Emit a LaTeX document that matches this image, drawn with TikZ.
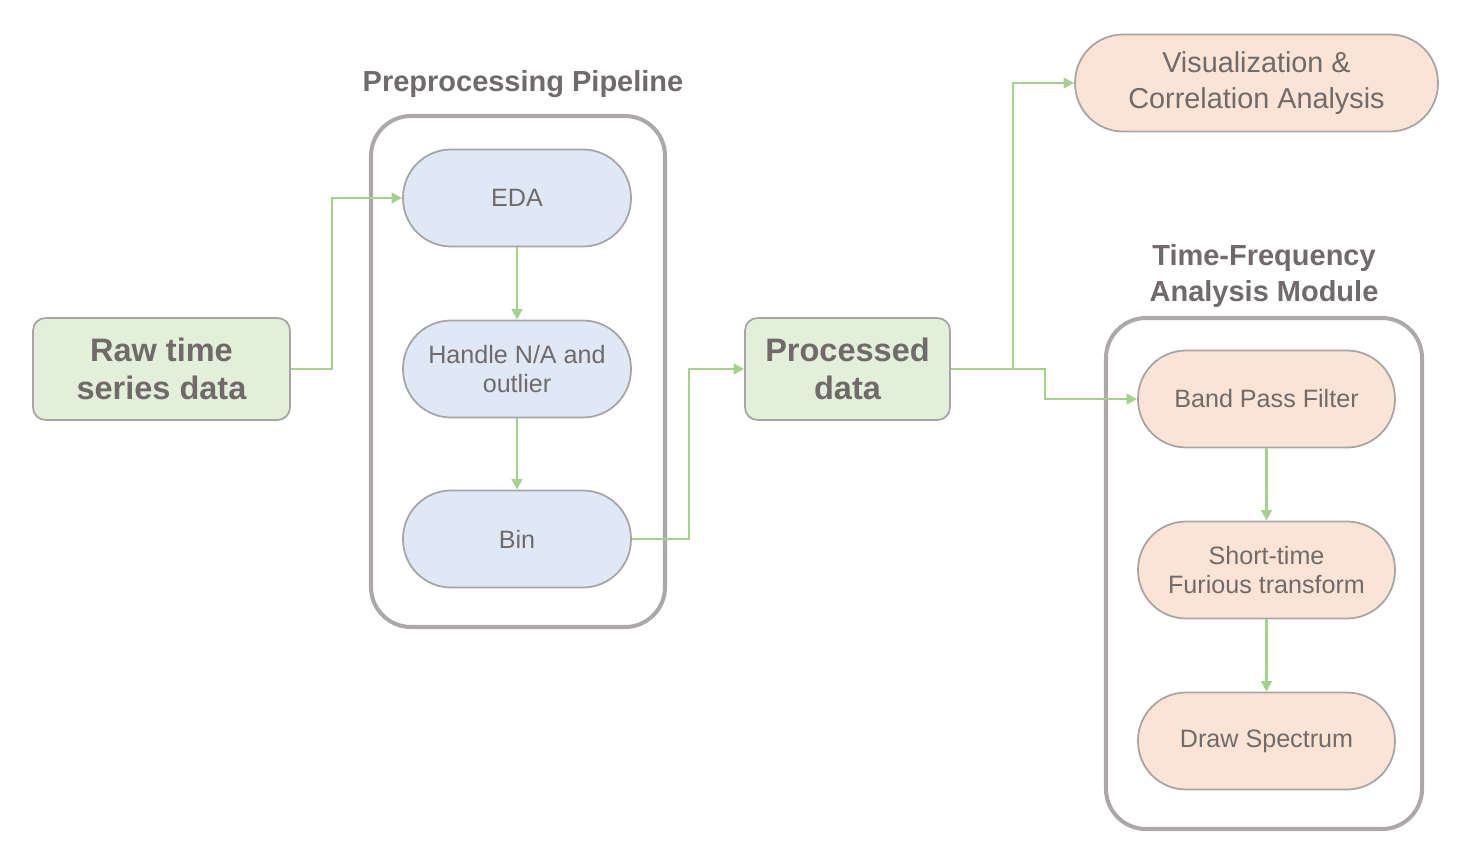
\documentclass[tikz,border=0pt]{standalone}
\usepackage{fontspec}
\setmainfont{Liberation Sans}
\usetikzlibrary{arrows.meta}
\definecolor{txtgray}{RGB}{112,106,106}
\definecolor{boxgray}{RGB}{166,164,164}
\definecolor{framegray}{RGB}{172,168,168}
\definecolor{arrgreen}{RGB}{164,210,140}
\definecolor{rawfill}{RGB}{226,239,218}
\definecolor{prefill}{RGB}{222,233,245}
\definecolor{tffill}{RGB}{251,228,214}
\tikzset{
  databox/.style={draw=boxgray, line width=1pt, fill=rawfill, rounded corners=0.25cm,
    text=txtgray, font=\fontsize{18.5}{21.6}\selectfont\bfseries, align=center, inner sep=0pt},
  stepbox/.style={draw=boxgray, line width=1pt, rounded corners=0.96cm, minimum height=1.94cm,
    text=txtgray, font=\fontsize{14.3}{17}\selectfont, align=center, inner sep=0pt},
  frame/.style={draw=framegray, line width=2.3pt, rounded corners=0.8cm},
  title/.style={text=txtgray, font=\fontsize{16.5}{20}\selectfont\bfseries, align=center},
  flow/.style={draw=arrgreen, line width=1.5pt, -{Triangle[length=6pt,width=6pt]}},
}
\begin{document}
\begin{tikzpicture}[x=0.02cm,y=-0.02cm]
\useasboundingbox (0,0) rectangle (1480,858);
% containers
\draw[frame] (371,116) rectangle (665,627);
\draw[frame] (1106,318) rectangle (1422,829);
\node[title] (pretitle) at (523,84) {Preprocessing Pipeline};
\node[title] (tftitle) at (1264,276) {Time-Frequency\\Analysis Module};
% data
\node[databox, minimum width=5.14cm, minimum height=2.04cm] (raw) at (161.5,369) {Raw time\\series data};
\node[databox, minimum width=4.1cm, minimum height=2.04cm] (proc) at (847.5,369) {Processed\\data};
% preprocessing
\node[stepbox, fill=prefill, minimum width=4.56cm] (eda) at (517,198) {EDA};
\node[stepbox, fill=prefill, minimum width=4.56cm] (handle) at (517,369) {Handle N/A and\\outlier};
\node[stepbox, fill=prefill, minimum width=4.56cm] (bin) at (517,539) {Bin};
% analysis
\node[stepbox, fill=tffill, minimum width=7.26cm, font=\fontsize{16.4}{20}\selectfont] (vis) at (1256.5,83) {Visualization \&\\Correlation Analysis};
\node[stepbox, fill=tffill, minimum width=5.14cm] (band) at (1266.5,399) {Band Pass Filter};
\node[stepbox, fill=tffill, minimum width=5.14cm] (stft) at (1266.5,570) {Short-time\\Furious transform};
\node[stepbox, fill=tffill, minimum width=5.14cm] (spec) at (1266.5,741) {Draw Spectrum};
% connectors
\draw[flow] (raw.east) -- (332,369) |- (eda.west);
\draw[flow] (eda.south) -- (handle.north);
\draw[flow] (handle.south) -- (bin.north);
\draw[flow] (bin.east) -- (689,539) |- (proc.west);
\draw[flow] (proc.east) -- (1013,369) |- (vis.west);
\draw[flow] (proc.east) -- (1045,369) |- (band.west);
\draw[flow] (band.south) -- (stft.north);
\draw[flow] (stft.south) -- (spec.north);
\end{tikzpicture}
\end{document}
